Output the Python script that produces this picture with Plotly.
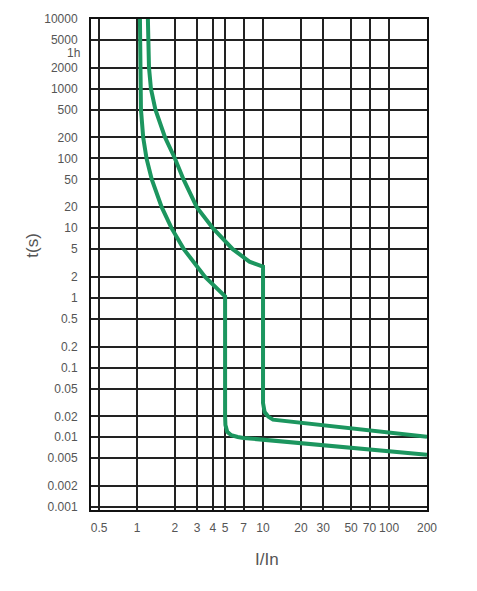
import math
import plotly.graph_objects as go

# lower (fast) tripping curve
curve_low_x = [1.055, 1.056, 1.075, 1.12, 1.19, 1.31, 1.57, 1.88, 2.35, 3.47, 4.9, 5.0,
               5.0, 5.03, 5.2, 5.6, 6.3, 7.0, 200]
curve_low_t = [10000, 1000, 500, 200, 100, 50, 20, 10, 5, 2, 1.12, 1.05,
               0.02, 0.015, 0.012, 0.0107, 0.0101, 0.0098, 0.0056]

# upper (slow) tripping curve
curve_high_x = [1.22, 1.23, 1.245, 1.29, 1.40, 1.67, 2.0, 2.34, 2.98, 4.0, 5.75, 7.8, 10,
                10, 10.3, 11.0, 12.0, 200]
curve_high_t = [10000, 5000, 2000, 1000, 500, 200, 100, 50, 20, 10, 5, 3.3, 2.8,
                0.031, 0.023, 0.0198, 0.0179, 0.0102]

x_ticks = [0.5, 1, 2, 3, 4, 5, 7, 10, 20, 30, 50, 70, 100, 200]
x_labels = ["0.5", "1", "2", "3", "4", "5", "7", "10", "20", "30", "50", "70", "100", "200"]
y_ticks = [0.001, 0.002, 0.005, 0.01, 0.02, 0.05, 0.1, 0.2, 0.5, 1, 2, 5, 10, 20,
           50, 100, 200, 500, 1000, 2000, 5000, 10000]
y_labels = ["0.001", "0.002", "0.005", "0.01", "0.02", "0.05", "0.1", "0.2", "0.5", "1",
            "2", "5", "10", "20", "50", "100", "200", "500", "1000", "2000", "5000", "10000"]

green = "rgb(28,150,95)"
tick_font = dict(family="Liberation Sans Narrow, Liberation Sans, Arial", size=12, color="#555")

fig = go.Figure()
fig.add_trace(go.Scatter(x=curve_low_x, y=curve_low_t, mode="lines",
                         line=dict(color=green, width=4), showlegend=False))
fig.add_trace(go.Scatter(x=curve_high_x, y=curve_high_t, mode="lines",
                         line=dict(color=green, width=4), showlegend=False))

fig.update_xaxes(type="log", range=[-0.365, math.log10(200)],
                 tickvals=x_ticks, ticktext=x_labels, tickfont=tick_font, tickangle=0,
                 showgrid=True, gridcolor="#222", gridwidth=1.5,
                 showline=True, linecolor="#111", linewidth=2, mirror=True,
                 ticks="", ticklabelstandoff=6, zeroline=False, automargin=False)
fig.update_yaxes(type="log", range=[-3.043, 4],
                 tickvals=y_ticks, ticktext=y_labels, tickfont=tick_font,
                 showgrid=True, gridcolor="#222", gridwidth=1.5,
                 showline=True, linecolor="#111", linewidth=2, mirror=True,
                 ticks="", ticklabelstandoff=9, zeroline=False, automargin=False)

fig.add_annotation(text="1h", xref="paper", x=0, xanchor="right", xshift=-9,
                   yref="y", y=math.log10(3600), yshift=-3, showarrow=False, font=tick_font)
fig.add_annotation(text="I/In", xref="paper", x=0.525, xanchor="center",
                   yref="paper", y=-0.1, yanchor="middle", showarrow=False,
                   font=dict(family="Liberation Sans", size=17, color="#555"))
fig.add_annotation(text="t(s)", xref="paper", x=-0.173, xanchor="center",
                   yref="paper", y=0.54, yanchor="middle", textangle=-90, showarrow=False,
                   font=dict(family="Liberation Sans", size=17, color="#555"))

# page body adds an 8px offset, so the figure is sized 8px smaller
fig.update_layout(width=469, height=583, plot_bgcolor="white", paper_bgcolor="white",
                  margin=dict(l=83, r=50, t=11, b=81))

fig.write_html("out.html")
